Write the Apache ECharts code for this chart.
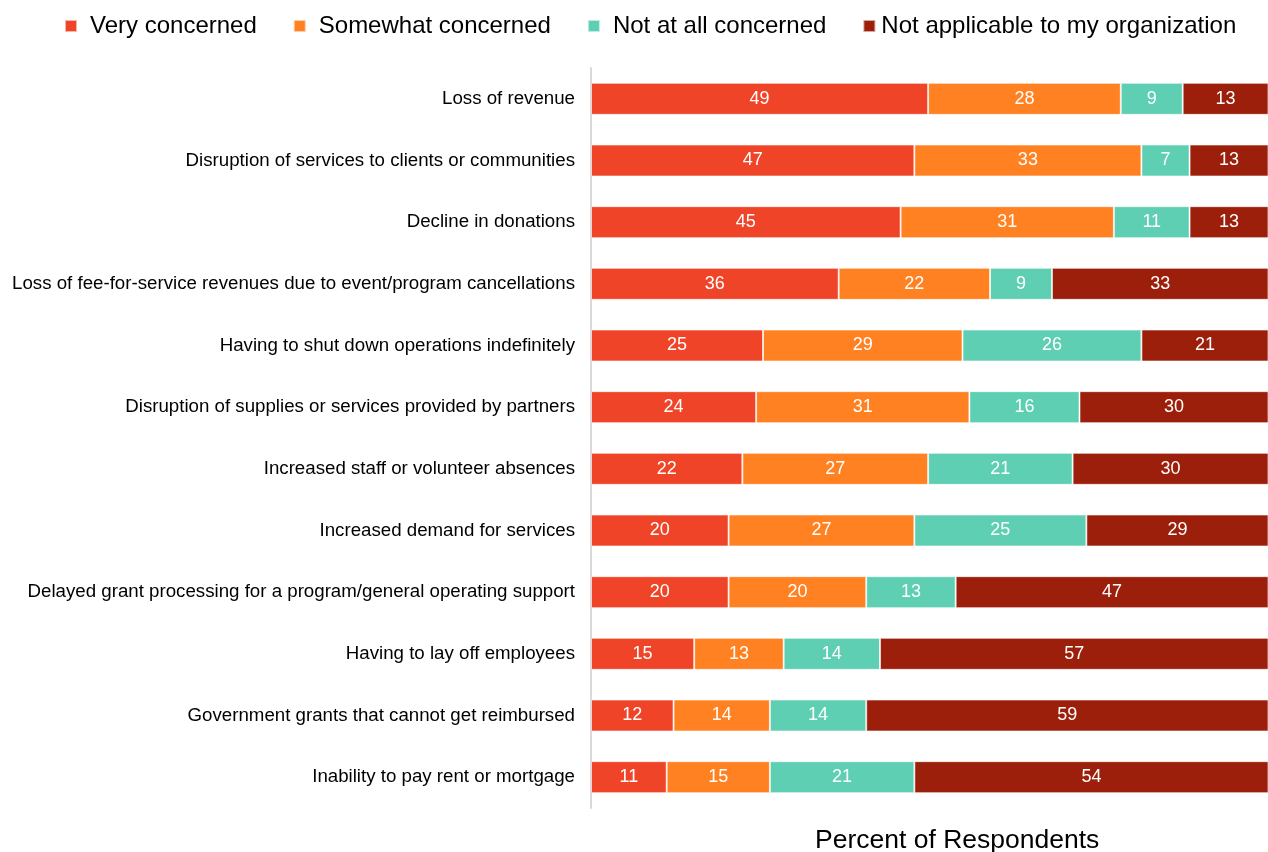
<!DOCTYPE html>
<html>
<head>
<meta charset="utf-8">
<script src="https://cdn.jsdelivr.net/npm/echarts@6/dist/echarts.min.js"></script>
<style>html,body{margin:0;padding:0;background:#fff}#c{width:1268px;height:852px}</style>
</head>
<body>
<div id="c"></div>
<script>
const categories = [
  "Loss of revenue",
  "Disruption of services to clients or communities",
  "Decline in donations",
  "Loss of fee-for-service revenues due to event/program cancellations",
  "Having to shut down operations indefinitely",
  "Disruption of supplies or services provided by partners",
  "Increased staff or volunteer absences",
  "Increased demand for services",
  "Delayed grant processing for a program/general operating support",
  "Having to lay off employees",
  "Government grants that cannot get reimbursed",
  "Inability to pay rent or mortgage"
];
const seriesNames = ["Very concerned", "Somewhat concerned", "Not at all concerned", "Not applicable to my organization"];
const veryConcerned     = [49, 47, 45, 36, 25, 24, 22, 20, 20, 15, 12, 11];
const somewhatConcerned = [28, 33, 31, 22, 29, 31, 27, 27, 20, 13, 14, 15];
const notConcerned      = [9, 7, 11, 9, 26, 16, 21, 25, 13, 14, 14, 21];
const notApplicable     = [13, 13, 13, 33, 21, 30, 30, 29, 47, 57, 59, 54];
const colors = ["#F04428", "#FF8122", "#5ECFB2", "#9C1F0B"];
const FONT = "Liberation Sans, Arial, Helvetica, sans-serif";

const allData = [veryConcerned, somewhatConcerned, notConcerned, notApplicable];
const chart = echarts.init(document.getElementById('c'), null, {renderer: 'canvas'});
chart.setOption({
  animation: false,
  textStyle: {fontFamily: FONT},
  title: {
    text: "Percent of Respondents",
    left: 810, top: 822,
    textStyle: {fontFamily: FONT, fontSize: 26.5, fontWeight: 'normal', color: '#000'}
  },
  legend: {
    left: 59, top: 9,
    itemWidth: 12, itemHeight: 12, itemGap: 36,
    icon: 'rect',
    data: seriesNames.map((n, i) => ({
      name: n,
      textStyle: {padding: [0, 0, 0, i === 3 ? 1 : 8]}
    })),
    textStyle: {fontFamily: FONT, fontSize: 24, color: '#000'}
  },
  grid: {left: 591, right: 0, top: 68, bottom: 44, containLabel: false},
  xAxis: {
    type: 'value', min: 0, max: 98.4,
    show: false
  },
  yAxis: {
    type: 'category', data: categories, inverse: true,
    axisLine: {show: true, lineStyle: {color: '#d9d9d9', width: 2}},
    axisTick: {show: false},
    axisLabel: {fontFamily: FONT, fontSize: 18.7, color: '#000', margin: 16}
  },
  series: seriesNames.map((n, i) => ({
    name: n, type: 'bar', stack: 'total',
    barWidth: 32,
    clip: true,
    data: allData[i],
    itemStyle: {color: colors[i], borderColor: 'rgba(255,255,255,0.6)', borderWidth: 1},
    label: {show: true, position: 'inside', color: '#fff', fontFamily: FONT, fontSize: 18}
  }))
});
</script>
</body>
</html>
